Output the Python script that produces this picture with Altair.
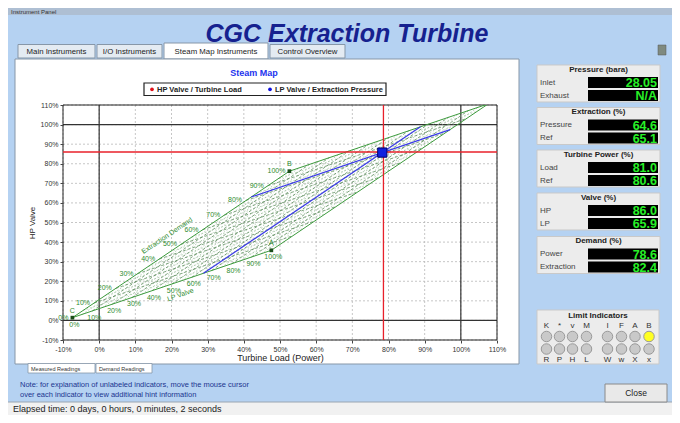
import altair as alt
import pandas as pd

# ------------------------------------------------------------------ data
panel_titles = ["Pressure (bara)", "Extraction (%)", "Turbine Power (%)", "Valve (%)", "Demand (%)"]
row_labels = [["Inlet", "Exhaust"], ["Pressure", "Ref"], ["Load", "Ref"], ["HP", "LP"], ["Power", "Extraction"]]
row_values = [["28.05", "N/A"], ["64.6", "65.1"], ["81.0", "80.6"], ["86.0", "65.9"], ["78.6", "82.4"]]

tab_names = ["Main Instruments", "I/O Instruments", "Steam Map Instruments", "Control Overview"]
sub_tabs = ["Measured Readings", "Demand Readings"]
legend_names = ["HP Valve / Turbine Load", "LP Valve / Extraction Pressure"]
limit_top = ["K", "*", "v", "M", "I", "F", "A", "B"]
limit_bottom = ["R", "P", "H", "L", "W", "w", "X", "x"]
limit_on = ["B"]
note_lines = ["Note: for explanation of unlabeled indicators, move the mouse cursor",
              "over each indicator to view additional hint information"]
status_text = "Elapsed time: 0 days, 0 hours, 0 minutes, 2 seconds"

axis_ticks = list(range(-10, 111, 10))
heavy_lines = [0, 100]
corner_C = (-7.4, 1.4)     # 0 % / 0 %
corner_B = (52.6, 76.2)    # 100 % extraction demand
corner_A = (47.6, 35.8)    # 100 % LP valve
label_levels = list(range(0, 101, 10))
major_levels = list(range(10, 100, 10))
minor_levels = list(range(5, 100, 10))
extraction_demand = 82.4
lp_valve = 65.9
power_demand = 78.6
hp_valve = 86.0

# ------------------------------------------------------------------ layout
FONT = "Liberation Sans"
OX, OY = 63.0, 105.0       # page pixel of the plot origin
W, H = 434, 235

rects, texts, dots = [], [], []


def rect(x0, y0, x1, y1, fill, stroke="transparent", sw=0.0):
    rects.append(dict(px=x0 - OX, py=y0 - OY, px2=x1 - OX, py2=y1 - OY,
                      fill=fill, stroke=stroke, sw=sw))


def text(s, x, y, fs, col="#222222", al="left", fw="normal", fst="normal"):
    texts.append(dict(px=x - OX, py=y - OY, t=s, fs=fs, col=col, al=al, fw=fw, fst=fst))


def dot(x, y, size, fill, stroke="transparent"):
    dots.append(dict(px=x - OX, py=y - OY, sz=size, fill=fill, stroke=stroke))


# window chrome
rect(0, 0, 680, 15, "#aebfd3")
rect(0, 402, 680, 423, "#f1f1f1", "#9aa6b2", 1)
text("Instrument Panel", 11, 11.8, 6, "#333333")
text("CGC Extraction Turbine", 347, 34, 25, "#16218f", "center", "bold", "italic")

tab_pos = [(18, 95), (97, 162), (164, 268), (270, 345)]
for i, (name, (a, b)) in enumerate(zip(tab_names, tab_pos)):
    if i == 2:
        rect(a, 43, b, 59, "#ffffff", "#8797a8", 1)
    else:
        rect(a, 44.5, b, 58, "#e4ebf2", "#8797a8", 1)
    text(name, (a + b) / 2, 51.5, 7.8, "#222222", "center")
rect(658, 45, 666, 55, "#7f8a80", "#555555", 0.5)

# chart panel
rect(15, 59, 519, 364, "#ffffff", "#8797a8", 1)
text("Steam Map", 254, 73, 9, "#2233ee", "center", "bold")
rect(144, 83, 386, 95.5, "#ffffff", "#222222", 1.2)
dot(152, 89.3, 14, "#e0101a")
dot(270, 89.3, 14, "#1010e0")
text(legend_names[0], 157, 89.5, 7.5, "#222222", "left", "bold")
text(legend_names[1], 275, 89.5, 7.5, "#222222", "left", "bold")

sub_pos = [(28, 95), (96, 152)]
for name, (a, b) in zip(sub_tabs, sub_pos):
    rect(a, 363.5, b, 373, "#ffffff", "#8797a8", 0.8)
    text(name, a + 3, 368.5, 5.5, "#333333")

for i, line in enumerate(note_lines):
    text(line, 20, 384.5 + 10 * i, 7.5, "#1b3590")
text(status_text, 13, 409.3, 9, "#222222")

# right-hand readings
panel_tops = [65, 107.5, 150, 193, 236.5]
for title, labs, vals, top in zip(panel_titles, row_labels, row_values, panel_tops):
    rect(537, top, 660, top + 37, "#ececec", "#c9c9c9", 1)
    text(title, 598.5, top + 4.8, 8, "#222222", "center", "bold")
    for j, (lab, val) in enumerate(zip(labs, vals)):
        ry = top + 17.5 + 13 * j
        rect(588, ry - 5.5, 658, ry + 5.5, "#000000")
        text(lab, 540, ry, 8, "#444444")
        text(val, 657, ry + 0.5, 12.5, "#27f027", "right", "bold")

# limit indicators
rect(537, 310, 659, 364, "#ececec", "#c9c9c9", 1)
text("Limit Indicators", 598, 316, 8, "#222222", "center", "bold")
lx = [546.5, 559.5, 572.5, 586.5, 607.5, 621.5, 635, 649]
for x, a, b in zip(lx, limit_top, limit_bottom):
    text(a, x, 326, 8, "#333333", "center")
    text(b, x, 359.5, 8, "#333333", "center")
    dot(x, 336.5, 110, "#ffff22" if a in limit_on else "#c9c9c9", "#9a9a9a")
    dot(x, 349, 110, "#ffff22" if b in limit_on else "#c9c9c9", "#9a9a9a")

rect(605, 384, 667, 402, "#e9e9e9", "#8a8a8a", 1)
text("Close", 636, 393, 8.5, "#222222", "center")

rect_df = pd.DataFrame(rects)
text_df = pd.DataFrame(texts)
dot_df = pd.DataFrame(dots)


# ------------------------------------------------------------------ steam map geometry
def mp(t, s):
    cx, cy = corner_C
    bx, by = corner_B
    ax_, ay = corner_A
    return (cx + t * (bx - cx) + s * (ax_ - cx), cy + t * (by - cy) + s * (ay - cy))


def seg_rows(segs):
    rows = []
    for name, (p, q) in segs:
        for o, (t, s) in enumerate([p, q]):
            x, y = mp(t, s)
            rows.append(dict(seg=name, o=o, x=x, y=y))
    return pd.DataFrame(rows)


edges = seg_rows([("CB", ((0, 0), (1, 0))), ("CA", ((0, 0), (0, 1))),
                  ("BD", ((1, 0), (1, 1))), ("AD", ((0, 1), (1, 1)))])
major = seg_rows([(f"t{k}", ((k / 100, 0), (k / 100, 1))) for k in major_levels] +
                 [(f"s{k}", ((0, k / 100), (1, k / 100))) for k in major_levels])
minor = seg_rows([(f"t{k}", ((k / 100, 0), (k / 100, 1))) for k in minor_levels] +
                 [(f"s{k}", ((0, k / 100), (1, k / 100))) for k in minor_levels])
te, sl = extraction_demand / 100, lp_valve / 100
blue = seg_rows([("ext", ((te, 0), (te, 1))), ("lp", ((0, sl), (1, sl)))])
op = pd.DataFrame([dict(zip(("x", "y"), mp(te, sl)))])

cb_lab = pd.DataFrame([dict(x=mp(l / 100, 0)[0], y=mp(l / 100, 0)[1], t=f"{l}%") for l in label_levels])
ca_lab = pd.DataFrame([dict(x=mp(0, l / 100)[0], y=mp(0, l / 100)[1], t=f"{l}%") for l in label_levels])
corners = pd.DataFrame([dict(x=mp(*p)[0], y=mp(*p)[1], t=n) for n, p in
                        [("C", (0, 0)), ("B", (1, 0)), ("A", (0, 1))]])
titles = pd.DataFrame([dict(x=18.8, y=43.2, t="Extraction Demand", ang=326),
                       dict(x=22.5, y=13.0, t="LP Valve", ang=340)])
ticks_df = pd.DataFrame({"v": axis_ticks})
heavy_df = pd.DataFrame({"v": heavy_lines})
frame_df = pd.DataFrame({"x0": [axis_ticks[0]], "x1": [axis_ticks[-1]],
                         "y0": [axis_ticks[0]], "y1": [axis_ticks[-1]]})
red_x = pd.DataFrame({"v": [power_demand]})
red_y = pd.DataFrame({"v": [hp_valve]})

# ------------------------------------------------------------------ encodings
SX = alt.Scale(domain=[-10, 110], nice=False, zero=False)
SY = alt.Scale(domain=[-10, 110], nice=False, zero=False)
AXX = alt.Axis(values=axis_ticks, labelExpr="datum.value + '%'", grid=False, domain=False,
               tickSize=3, tickColor="#444444", labelFontSize=7, labelColor="#333333",
               labelFont=FONT, labelFlush=False, labelOverlap=False, labelPadding=2,
               title="Turbine Load (Power)", titleFont=FONT, titleFontSize=9,
               titleFontWeight="normal", titleColor="#222222", titlePadding=1, zindex=1)
AXY = alt.Axis(values=axis_ticks, labelExpr="datum.value + '%'", grid=False, domain=False,
               tickSize=3, tickColor="#444444", labelFontSize=7, labelColor="#333333",
               labelFont=FONT, labelFlush=False, labelOverlap=False, labelPadding=2,
               title="HP Valve", titleFont=FONT, titleFontSize=8,
               titleFontWeight="normal", titleColor="#222222", titlePadding=4, zindex=1)


def X(f, axis=None):
    return alt.X(f, type="quantitative", scale=SX, axis=axis)


def Y(f, axis=None):
    return alt.Y(f, type="quantitative", scale=SY, axis=axis)


def PX(f):
    return alt.X(f, type="quantitative", scale=None, axis=None)


def PY(f):
    return alt.Y(f, type="quantitative", scale=None, axis=None)


GREEN = "#2e8b2e"

layers = [
    alt.Chart(rect_df).mark_rect().encode(
        x=PX("px"), x2="px2", y=PY("py"), y2="py2",
        fill=alt.Fill("fill:N", scale=None), stroke=alt.Stroke("stroke:N", scale=None),
        strokeWidth=alt.StrokeWidth("sw:Q", scale=None)),
    alt.Chart(ticks_df).mark_rule(color="#b8b8b8", strokeDash=[2, 2], strokeWidth=0.8).encode(x=X("v", AXX)),
    alt.Chart(ticks_df).mark_rule(color="#b8b8b8", strokeDash=[2, 2], strokeWidth=0.8).encode(y=Y("v", AXY)),
    alt.Chart(heavy_df).mark_rule(color="#333333", strokeWidth=1.2).encode(x=X("v")),
    alt.Chart(heavy_df).mark_rule(color="#333333", strokeWidth=1.2).encode(y=Y("v")),
    alt.Chart(frame_df).mark_rect(fill="transparent", stroke="#222222", strokeWidth=1).encode(
        x=X("x0"), x2="x1", y=Y("y0"), y2="y1"),
    alt.Chart(minor).mark_line(color="#9cbf9c", strokeWidth=0.7, strokeDash=[1.5, 2], clip=True).encode(
        x=X("x"), y=Y("y"), detail="seg:N", order="o:Q"),
    alt.Chart(major).mark_line(color="#5f8f5f", strokeWidth=0.8, strokeDash=[3, 2], clip=True).encode(
        x=X("x"), y=Y("y"), detail="seg:N", order="o:Q"),
    alt.Chart(edges).mark_line(color="#3c9a3c", strokeWidth=1, clip=True).encode(
        x=X("x"), y=Y("y"), detail="seg:N", order="o:Q"),
    alt.Chart(blue).mark_line(color="#3a3ae8", strokeWidth=1.2).encode(
        x=X("x"), y=Y("y"), detail="seg:N", order="o:Q"),
    alt.Chart(red_x).mark_rule(color="#e8202a", strokeWidth=1.3).encode(x=X("v")),
    alt.Chart(red_y).mark_rule(color="#e8202a", strokeWidth=1.3).encode(y=Y("v")),
    alt.Chart(corners).mark_square(color="#1a4d1a", size=14, opacity=1).encode(x=X("x"), y=Y("y")),
    alt.Chart(corners).mark_text(color=GREEN, fontSize=7, font=FONT, dy=-7).encode(
        x=X("x"), y=Y("y"), text="t:N"),
    alt.Chart(cb_lab).mark_text(color=GREEN, fontSize=7, font=FONT, align="right", dx=-4).encode(
        x=X("x"), y=Y("y"), text="t:N"),
    alt.Chart(ca_lab).mark_text(color=GREEN, fontSize=7, font=FONT, align="center", dx=2, dy=7).encode(
        x=X("x"), y=Y("y"), text="t:N"),
    alt.Chart(titles).mark_text(color=GREEN, fontSize=7, font=FONT).encode(
        x=X("x"), y=Y("y"), text="t:N", angle=alt.Angle("ang:Q", scale=None)),
    alt.Chart(op).mark_point(shape="square", filled=True, size=85, color="#1020e0",
                             stroke="#00006a", strokeWidth=1, opacity=1).encode(x=X("x"), y=Y("y")),
    alt.Chart(dot_df).mark_circle(opacity=1, strokeWidth=1).encode(
        x=PX("px"), y=PY("py"), size=alt.Size("sz:Q", scale=None),
        fill=alt.Fill("fill:N", scale=None), stroke=alt.Stroke("stroke:N", scale=None)),
    alt.Chart(text_df).mark_text(
        font=FONT, baseline="middle",
        align=alt.ExprRef(expr="datum.al"),
        fontWeight=alt.ExprRef(expr="datum.fw"),
        fontStyle=alt.ExprRef(expr="datum.fst")).encode(
        x=PX("px"), y=PY("py"), text="t:N",
        size=alt.Size("fs:Q", scale=None), color=alt.Color("col:N", scale=None)),
]

chart = alt.layer(*layers).resolve_axis(x="independent", y="independent").properties(
    width=W, height=H,
    autosize=alt.AutoSizeParams(type="none"),
    padding={"left": OX - 8, "top": OY - 8, "right": 672 - OX - W, "bottom": 415 - OY - H},
    background="#b5d2f2",
).configure_view(strokeOpacity=0)

chart.save("out.html", embed_options={"renderer": "svg", "actions": False})
